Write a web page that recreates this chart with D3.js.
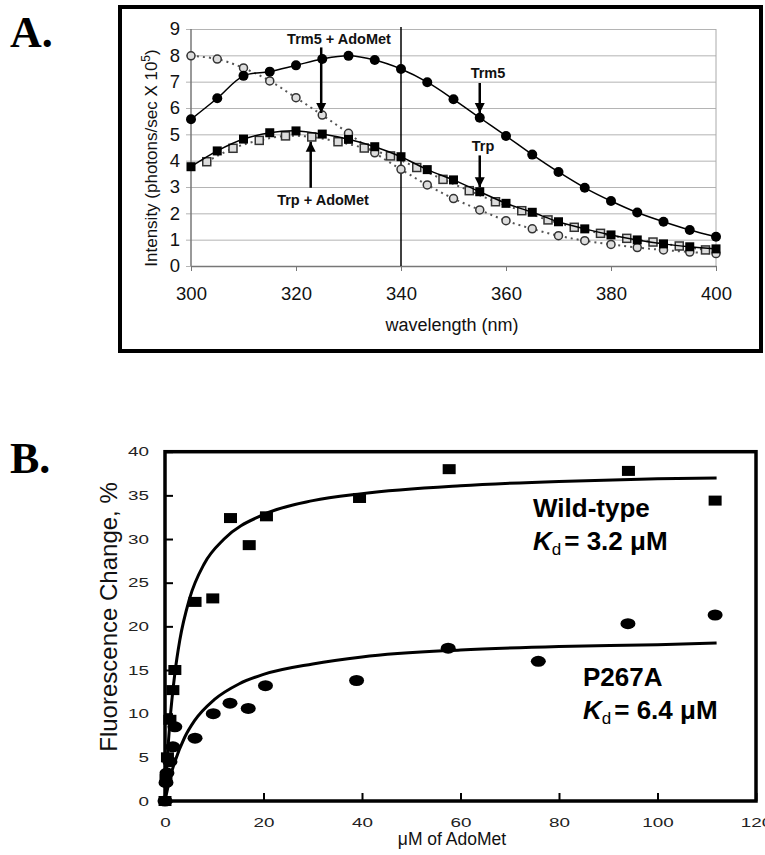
<!DOCTYPE html>
<html>
<head>
<meta charset="utf-8">
<script src="https://cdn.jsdelivr.net/npm/d3@7"></script>
<style>
  body { margin: 0; background: #fff; }
  svg { display: block; }
</style>
</head>
<body>
<div id="chart"></div>
<script>
// panel A: emission spectra

  const wavelengths = [300, 305, 310, 315, 320, 325, 330, 335, 340, 345, 350,
                       355, 360, 365, 370, 375, 380, 385, 390, 395, 400];
  const trm5 = [5.57, 6.37, 7.22, 7.38, 7.62, 7.86, 7.98, 7.82, 7.48, 6.98, 6.33,
                5.63, 4.94, 4.23, 3.57, 2.97, 2.47, 2.03, 1.68, 1.37, 1.11];
  const trm5Ado = [7.98, 7.86, 7.52, 7.03, 6.39, 5.73, 5.04, 4.30, 3.67, 3.08, 2.56,
                   2.13, 1.72, 1.41, 1.15, 0.96, 0.82, 0.70, 0.61, 0.53, 0.47];
  const trp = [3.77, 4.37, 4.82, 5.06, 5.13, 5.01, 4.81, 4.53, 4.15, 3.66, 3.27,
               2.82, 2.38, 2.04, 1.68, 1.41, 1.18, 0.99, 0.84, 0.73, 0.65];
  const trpAdoWl = [303, 308, 313, 318, 323, 328, 333, 338, 343, 348,
                    353, 358, 363, 368, 373, 378, 383, 388, 393, 398];
  const trpAdo = [3.96, 4.47, 4.77, 4.94, 4.90, 4.72, 4.48, 4.18, 3.74, 3.29,
                  2.86, 2.44, 2.10, 1.75, 1.47, 1.24, 1.05, 0.91, 0.76, 0.61];
  const xTicksA = [300, 320, 340, 360, 380, 400];
  const yTicksA = [0, 1, 2, 3, 4, 5, 6, 7, 8, 9];

// panel B: AdoMet titration

  const wtConc = [0, 0.2, 0.5, 1.0, 1.6, 2.0, 6.1, 9.7, 13.3, 17.1, 20.6, 39.5, 57.7, 94.1, 111.7];
  const wtChange = [0, 2.5, 5.0, 9.3, 12.7, 15.0, 22.8, 23.2, 32.4, 29.3, 32.6, 34.7, 38.0, 37.8, 34.4];
  const mutConc = [0, 0.2, 0.4, 1.0, 1.6, 2.0, 6.1, 9.8, 13.2, 16.9, 20.4, 38.9, 57.5, 75.8, 94.0, 111.7];
  const mutChange = [0, 2.1, 3.2, 4.5, 6.2, 8.5, 7.2, 10.0, 11.2, 10.6, 13.2, 13.8, 17.5, 16.0, 20.3, 21.3];

  // fitted curves
  const wtFitConc = [0, 0.5, 1, 2, 3, 5, 8, 12, 20, 30, 40, 60, 80, 100, 112];
  const wtFit = [0, 5.1, 9.1, 14.6, 18.4, 23.2, 27.2, 30.0, 32.8, 34.4, 35.2, 36.1, 36.6, 36.9, 37.0];
  const mutFitConc = [0, 1, 2, 4, 6, 10, 15, 20, 30, 40, 60, 80, 100, 112];
  const mutFit = [0, 2.6, 4.5, 7.3, 9.2, 11.6, 13.4, 14.5, 15.7, 16.5, 17.3, 17.7, 17.9, 18.1];

  const xTicksB = [0, 20, 40, 60, 80, 100, 120];
  const yTicksB = [0, 5, 10, 15, 20, 25, 30, 35, 40];

  const w = 765;
  const h = 855;

  const svg = d3.select("#chart")
    .append("svg")
      .attr("width", w)
      .attr("height", h)
      .style("font-family", "'Liberation Sans', Arial, sans-serif");

// ---------- panel A ----------

  const xA = d3.scaleLinear().domain([300, 400]).range([191, 716]);
  const yA = d3.scaleLinear().domain([0, 9]).range([266, 29]);

  svg.append("rect")
      .attr("x", 120).attr("y", 7)
      .attr("width", 641).attr("height", 344)
      .attr("fill", "none")
      .attr("stroke", "#000")
      .attr("stroke-width", 4);

  svg.append("text")
      .attr("x", 10).attr("y", 47)
      .style("font-family", "'Liberation Serif', 'Times New Roman', serif")
      .style("font-weight", "bold")
      .style("font-size", "44px")
      .text("A.");

  // grid + y labels
  const gridA = svg.append("g")
      .attr("transform", "translate(186, 0)")
      .call(d3.axisLeft(yA).tickValues(yTicksA).tickSize(-530).tickPadding(6));
  gridA.select(".domain").remove();
  gridA.selectAll("line").attr("stroke", "#b4b4b4");
  gridA.selectAll("text")
      .style("font-size", "18.5px")
      .style("font-family", "'Liberation Sans', Arial, sans-serif")
      .attr("fill", "#111");

  // plot frame (gray) and axes
  svg.append("line")
      .attr("x1", xA(400)).attr("x2", xA(400))
      .attr("y1", yA(9)).attr("y2", yA(0))
      .attr("stroke", "#aaa");
  svg.append("line")
      .attr("x1", xA(300)).attr("x2", xA(300))
      .attr("y1", yA(9)).attr("y2", yA(0))
      .attr("stroke", "#777").attr("stroke-width", 1.5);

  const axA = svg.append("g")
      .attr("transform", `translate(0, ${yA(0)})`)
      .call(d3.axisBottom(xA).tickValues(xTicksA).tickSize(5).tickSizeOuter(0).tickPadding(16));
  axA.select(".domain").attr("stroke", "#777").attr("stroke-width", 1.5);
  axA.selectAll("line").attr("stroke", "#777");
  axA.selectAll("text")
      .style("font-size", "18.5px")
      .style("font-family", "'Liberation Sans', Arial, sans-serif")
      .attr("fill", "#111");

  // vertical marker at 340 nm
  svg.append("line")
      .attr("x1", xA(340)).attr("x2", xA(340))
      .attr("y1", yA(9) - 2).attr("y2", yA(0))
      .attr("stroke", "#000").attr("stroke-width", 1.5);

  svg.append("text")
      .attr("transform", `translate(157, 158) rotate(-90)`)
      .attr("text-anchor", "middle")
      .style("font-size", "17px")
      .attr("fill", "#111")
      .text("Intensity (photons/sec X 10")
    .append("tspan")
      .attr("dy", -7)
      .style("font-size", "12px")
      .text("5")
    .select(function() { return this.parentNode; })
    .append("tspan")
      .attr("dy", 7)
      .text(")");

  svg.append("text")
      .attr("x", 452).attr("y", 331)
      .attr("text-anchor", "middle")
      .style("font-size", "18px")
      .attr("fill", "#111")
      .text("wavelength (nm)");

  const smooth = d3.curveCatmullRom.alpha(0.5);

  const lineA = (xs, ys) => d3.line()
      .x((d, i) => xA(xs[i]))
      .y(d => yA(d))
      .curve(smooth)(ys);

  // dotted series first
  svg.append("path")
      .attr("d", lineA(wavelengths, trm5Ado))
      .attr("fill", "none")
      .attr("stroke", "#555")
      .attr("stroke-width", 2)
      .attr("stroke-dasharray", "2,4");
  svg.append("path")
      .attr("d", lineA(trpAdoWl, trpAdo))
      .attr("fill", "none")
      .attr("stroke", "#555")
      .attr("stroke-width", 2)
      .attr("stroke-dasharray", "2,4");

  svg.append("g").selectAll("circle")
      .data(trm5Ado)
    .enter().append("circle")
      .attr("cx", (d, i) => xA(wavelengths[i]))
      .attr("cy", d => yA(d))
      .attr("r", 4)
      .attr("fill", "#ddd")
      .attr("stroke", "#333")
      .attr("stroke-width", 1.5);

  svg.append("g").selectAll("rect")
      .data(trpAdo)
    .enter().append("rect")
      .attr("x", (d, i) => xA(trpAdoWl[i]) - 4)
      .attr("y", d => yA(d) - 4)
      .attr("width", 8)
      .attr("height", 8)
      .attr("fill", "#ddd")
      .attr("stroke", "#333")
      .attr("stroke-width", 1.5);

  // solid series
  svg.append("path")
      .attr("d", lineA(wavelengths, trm5))
      .attr("fill", "none")
      .attr("stroke", "#000")
      .attr("stroke-width", 1.5);
  svg.append("path")
      .attr("d", lineA(wavelengths, trp))
      .attr("fill", "none")
      .attr("stroke", "#000")
      .attr("stroke-width", 1.5);

  svg.append("g").selectAll("circle")
      .data(trm5)
    .enter().append("circle")
      .attr("cx", (d, i) => xA(wavelengths[i]))
      .attr("cy", d => yA(d))
      .attr("r", 5)
      .attr("fill", "#000");

  svg.append("g").selectAll("rect")
      .data(trp)
    .enter().append("rect")
      .attr("x", (d, i) => xA(wavelengths[i]) - 4.5)
      .attr("y", d => yA(d) - 4.5)
      .attr("width", 9)
      .attr("height", 9)
      .attr("fill", "#000");

  // annotations with arrows
  svg.append("defs").append("marker")
      .attr("id", "head")
      .attr("viewBox", "0 0 10 10")
      .attr("refX", 10).attr("refY", 5)
      .attr("markerWidth", 4).attr("markerHeight", 5)
      .attr("markerUnits", "strokeWidth")
      .attr("orient", "auto")
    .append("path")
      .attr("d", "M0,0 L10,5 L0,10 Z")
      .attr("fill", "#000");

  const notes = [
    {label: "Trm5 + AdoMet", tx: 339, ty: 44, ax: 324.8, y1: 8.3, y2: 5.81},
    {label: "Trp + AdoMet", tx: 323, ty: 205, ax: 322.8, y1: 2.97, y2: 4.72},
    {label: "Trm5", tx: 488, ty: 78, ax: 355, y1: 6.95, y2: 5.81},
    {label: "Trp", tx: 483, ty: 151, ax: 355, y1: 4.2, y2: 2.99}
  ];

  notes.forEach(n => {
    svg.append("text")
        .attr("x", n.tx).attr("y", n.ty)
        .attr("text-anchor", "middle")
        .style("font-size", "14.5px")
        .style("font-weight", "bold")
        .attr("fill", "#111")
        .text(n.label);
    svg.append("line")
        .attr("x1", xA(n.ax)).attr("x2", xA(n.ax))
        .attr("y1", yA(n.y1)).attr("y2", yA(n.y2))
        .attr("stroke", "#000")
        .attr("stroke-width", 2.5)
        .attr("marker-end", "url(#head)");
  });

// ---------- panel B ----------

  const xB = d3.scaleLinear().domain([0, 120]).range([165, 756]);
  const yB = d3.scaleLinear().domain([0, 40]).range([801, 451.7]);

  svg.append("text")
      .attr("x", 10).attr("y", 473)
      .style("font-family", "'Liberation Serif', 'Times New Roman', serif")
      .style("font-weight", "bold")
      .style("font-size", "44px")
      .text("B.");

  const axYB = svg.append("g")
      .attr("transform", `translate(${xB(0)}, 0)`)
      .call(d3.axisLeft(yB).tickValues(yTicksB).tickSize(-8).tickSizeOuter(0).tickPadding(11));
  axYB.select(".domain").remove();
  axYB.selectAll("line").attr("stroke", "#000").attr("stroke-width", 2);
  axYB.selectAll("text")
      .style("font-size", "13px")
      .style("font-family", "'Liberation Sans', Arial, sans-serif")
      .attr("fill", "#222")
      .attr("transform", "scale(1.45,1)");

  const axXB = svg.append("g")
      .attr("transform", `translate(0, ${yB(0)})`)
      .call(d3.axisBottom(xB).tickValues(xTicksB).tickSize(-8).tickSizeOuter(0).tickPadding(17));
  axXB.select(".domain").remove();
  axXB.selectAll("line").attr("stroke", "#000").attr("stroke-width", 2);
  axXB.selectAll("text")
      .style("font-size", "13px")
      .style("font-family", "'Liberation Sans', Arial, sans-serif")
      .attr("fill", "#222")
      .attr("transform", "scale(1.45,1)");

  svg.append("rect")
      .attr("x", xB(0)).attr("y", yB(40))
      .attr("width", xB(120) - xB(0))
      .attr("height", yB(0) - yB(40))
      .attr("fill", "none")
      .attr("stroke", "#000")
      .attr("stroke-width", 3.5);

  const lineB = (xs, ys) => d3.line()
      .x((d, i) => xB(xs[i]))
      .y(d => yB(d))
      .curve(d3.curveMonotoneX)(ys);

  svg.append("path")
      .attr("d", lineB(wtFitConc, wtFit))
      .attr("fill", "none")
      .attr("stroke", "#000")
      .attr("stroke-width", 3);
  svg.append("path")
      .attr("d", lineB(mutFitConc, mutFit))
      .attr("fill", "none")
      .attr("stroke", "#000")
      .attr("stroke-width", 3);

  svg.append("g").selectAll("rect")
      .data(wtChange)
    .enter().append("rect")
      .attr("x", (d, i) => xB(wtConc[i]) - 6.5)
      .attr("y", d => yB(d) - 5)
      .attr("width", 13)
      .attr("height", 10)
      .attr("fill", "#000");

  svg.append("g").selectAll("ellipse")
      .data(mutChange)
    .enter().append("ellipse")
      .attr("cx", (d, i) => xB(mutConc[i]))
      .attr("cy", d => yB(d))
      .attr("rx", 7.5)
      .attr("ry", 5.5)
      .attr("fill", "#000");

  svg.append("text")
      .attr("transform", "translate(117, 617) rotate(-90)")
      .attr("text-anchor", "middle")
      .style("font-size", "24px")
      .attr("fill", "#111")
      .text("Fluorescence Change, %");

  svg.append("text")
      .attr("x", 452).attr("y", 845)
      .attr("text-anchor", "middle")
      .style("font-size", "17.5px")
      .attr("fill", "#111")
      .text("μM of AdoMet");

  const kdNotes = [
    {name: "Wild-type", kd: "3.2", x: 533, y: 517},
    {name: "P267A", kd: "6.4", x: 583, y: 686}
  ];

  kdNotes.forEach(k => {
    svg.append("text")
        .attr("x", k.x).attr("y", k.y)
        .style("font-size", "26px")
        .style("font-weight", "bold")
        .text(k.name);
    const t = svg.append("text")
        .attr("x", k.x).attr("y", k.y + 33)
        .style("font-size", "26px")
        .style("font-weight", "bold");
    t.append("tspan").style("font-style", "italic").text("K");
    t.append("tspan").attr("dy", 5).style("font-size", "17px").style("font-weight", "normal").text("d");
    t.append("tspan").attr("dy", -5).attr("dx", 3).text("= " + k.kd + " μM");
  });
</script>
</body>
</html>
